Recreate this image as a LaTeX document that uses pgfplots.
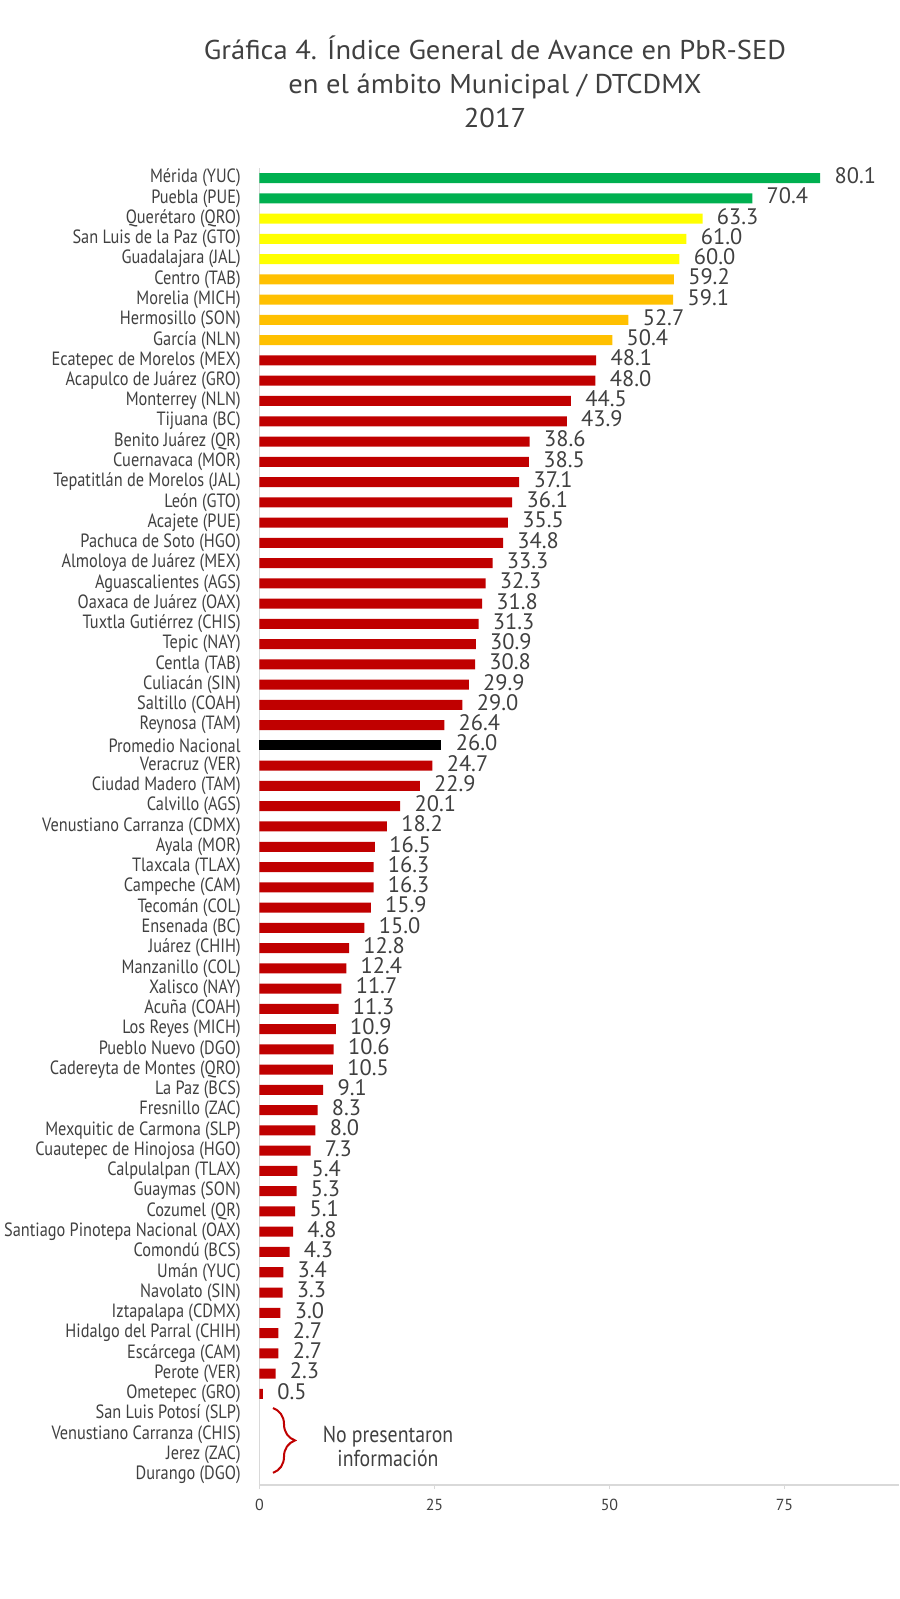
\documentclass[border=0pt]{standalone}
\usepackage{fontspec}
\setmainfont{PT Sans}
\newfontfamily\condfont[FakeStretch=0.85]{PT Sans}
\newfontfamily\notefont[FakeStretch=0.86]{PT Sans}
\newfontfamily\titlefont[FakeStretch=1.05]{PT Sans}
\usepackage{pgfplots}
\pgfplotsset{compat=1.18}
\usetikzlibrary{decorations.pathreplacing}
\definecolor{cgreen}{HTML}{00B050}
\definecolor{cyellow}{HTML}{FFFF00}
\definecolor{corange}{HTML}{FFC000}
\definecolor{cred}{HTML}{C00000}
\definecolor{ctext}{HTML}{404040}
\definecolor{caxis}{HTML}{D9D9D9}
\begin{document}
\begin{tikzpicture}
\path[use as bounding box] (-129.75pt,-57pt) rectangle (319.75pt,742.5pt);
\node[anchor=base, font=\titlefont\fontsize{13.6}{15}\selectfont, text=ctext, inner sep=0pt] at (117.75pt,712.5pt) {Gráfica 4. Índice General de Avance en PbR-SED};
\node[anchor=base, font=\titlefont\fontsize{13.6}{15}\selectfont, text=ctext, inner sep=0pt] at (117.75pt,695.5pt) {en el ámbito Municipal / DTCDMX};
\node[anchor=base, font=\titlefont\fontsize{13.6}{15}\selectfont, text=ctext, inner sep=0pt] at (117.75pt,678.5pt) {2017};
\begin{axis}[
  at={(0pt,0pt)}, anchor=south west,
  width=319.75pt, height=658.5pt, scale only axis,
  xmin=0, xmax=91.36, ymin=-0.5, ymax=64.5,
  axis x line*=bottom, axis y line*=left,
  axis line style={draw=caxis, line width=0.75pt},
  xtick={0,25,50,75},
  ytick={0,...,64},
  yticklabels={Durango (DGO), Jerez (ZAC), Venustiano Carranza (CHIS), San Luis Potosí (SLP), Ometepec (GRO), Perote (VER), Escárcega (CAM), Hidalgo del Parral (CHIH), Iztapalapa (CDMX), Navolato (SIN), Umán (YUC), Comondú (BCS), Santiago Pinotepa Nacional (OAX), Cozumel (QR), Guaymas (SON), Calpulalpan (TLAX), Cuautepec de Hinojosa (HGO), Mexquitic de Carmona (SLP), Fresnillo (ZAC), La Paz (BCS), Cadereyta de Montes (QRO), Pueblo Nuevo (DGO), Los Reyes (MICH), Acuña (COAH), Xalisco (NAY), Manzanillo (COL), Juárez (CHIH), Ensenada (BC), Tecomán (COL), Campeche (CAM), Tlaxcala (TLAX), Ayala (MOR), Venustiano Carranza (CDMX), Calvillo (AGS), Ciudad Madero (TAM), Veracruz (VER), Promedio Nacional, Reynosa (TAM), Saltillo (COAH), Culiacán (SIN), Centla (TAB), Tepic (NAY), Tuxtla Gutiérrez (CHIS), Oaxaca de Juárez (OAX), Aguascalientes (AGS), Almoloya de Juárez (MEX), Pachuca de Soto (HGO), Acajete (PUE), León (GTO), Tepatitlán de Morelos (JAL), Cuernavaca (MOR), Benito Juárez (QR), Tijuana (BC), Monterrey (NLN), Acapulco de Juárez (GRO), Ecatepec de Morelos (MEX), García (NLN), Hermosillo (SON), Morelia (MICH), Centro (TAB), Guadalajara (JAL), San Luis de la Paz (GTO), Querétaro (QRO), Puebla (PUE), Mérida (YUC)},
  y tick label style={font=\condfont\fontsize{9.6}{11}\selectfont, text=ctext, anchor=east, inner sep=0pt, xshift=-7.25pt},
  ytick style={draw=none},
  x tick label style={font=\fontsize{8}{9}\selectfont, text=ctext, anchor=north, inner sep=0pt, yshift=-5pt},
  xtick style={draw=caxis, line width=0.5pt},
  tick align=outside, major tick length=2pt,
  clip=false,
  /pgf/number format/assume math mode=true,
  bar width=5pt,
  point meta=x,
  nodes near coords,
  nodes near coords style={font=\fontsize{11.2}{12}\selectfont, text=ctext, anchor=west, inner sep=0pt, text height=7.8pt, text depth=0pt, xshift=7pt, yshift=1.2pt, /pgf/number format/.cd, fixed, fixed zerofill, precision=1, assume math mode=true},
]
\addplot[xbar, bar shift=0pt, fill=cgreen, draw=none] coordinates {(80.1,64) (70.4,63)};
\addplot[xbar, bar shift=0pt, fill=cyellow, draw=none] coordinates {(63.3,62) (61.0,61) (60.0,60)};
\addplot[xbar, bar shift=0pt, fill=corange, draw=none] coordinates {(59.2,59) (59.1,58) (52.7,57) (50.4,56)};
\addplot[xbar, bar shift=0pt, fill=cred, draw=none] coordinates {
(48.1,55) (48.0,54) (44.5,53) (43.9,52) (38.6,51) (38.5,50) (37.1,49) (36.1,48) (35.5,47) (34.8,46)
(33.3,45) (32.3,44) (31.8,43) (31.3,42) (30.9,41) (30.8,40) (29.9,39) (29.0,38) (26.4,37)};
\addplot[xbar, bar shift=0pt, fill=black, draw=none] coordinates {(26.0,36)};
\addplot[xbar, bar shift=0pt, fill=cred, draw=none] coordinates {
(24.7,35) (22.9,34) (20.1,33) (18.2,32) (16.5,31) (16.3,30) (16.3,29) (15.9,28) (15.0,27) (12.8,26)
(12.4,25) (11.7,24) (11.3,23) (10.9,22) (10.6,21) (10.5,20) (9.1,19) (8.3,18) (8.0,17) (7.3,16)
(5.4,15) (5.3,14) (5.1,13) (4.8,12) (4.3,11) (3.4,10) (3.3,9) (3.0,8) (2.7,7) (2.7,6) (2.3,5) (0.5,4)};
\draw[cred, line width=1pt, decorate, decoration={brace, amplitude=11pt}] (axis cs:1.93,3.3) -- (axis cs:1.93,0.1);
\node[anchor=base, font=\notefont\fontsize{11.5}{12}\selectfont, text=ctext, inner sep=0pt] at (axis cs:18.36,1.58) {No presentaron};
\node[anchor=base, font=\notefont\fontsize{11.5}{12}\selectfont, text=ctext, inner sep=0pt] at (axis cs:18.36,0.39) {información};
\end{axis}
\end{tikzpicture}
\end{document}
